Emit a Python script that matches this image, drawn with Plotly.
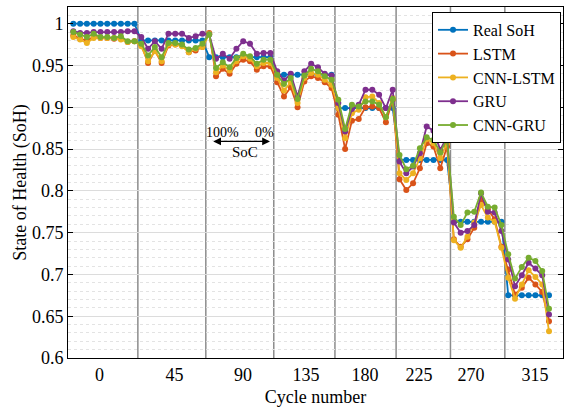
import plotly.graph_objects as go

# ---------------- data ----------------
cycle_index = list(range(71))

real_soh = [1.0]*10 + [0.98]*10 + [0.96]*10 + [0.939]*9 + [0.899]*9 + [0.837]*8 + [0.763]*8 + [0.675]*7

lstm = [0.986, 0.982, 0.980, 0.984, 0.983, 0.983, 0.982, 0.983, 0.978, 0.979,
        0.975, 0.953, 0.968, 0.953, 0.974, 0.975, 0.974, 0.966, 0.968, 0.972,
        0.989, 0.937, 0.946, 0.940, 0.952, 0.957, 0.955, 0.945, 0.949, 0.949,
        0.930, 0.913, 0.924, 0.900, 0.931, 0.937, 0.935, 0.930, 0.923,
        0.891, 0.850, 0.884, 0.886, 0.900, 0.901, 0.899, 0.882, 0.909,
        0.814, 0.801, 0.809, 0.827, 0.857, 0.853, 0.827, 0.853,
        0.742, 0.733, 0.742, 0.756, 0.790, 0.778, 0.766, 0.733,
        0.706, 0.676, 0.684, 0.696, 0.688, 0.679, 0.644]

cnn_lstm = [0.984, 0.981, 0.977, 0.983, 0.983, 0.983, 0.983, 0.981, 0.978, 0.979,
            0.973, 0.955, 0.967, 0.955, 0.975, 0.975, 0.973, 0.966, 0.970, 0.972,
            0.988, 0.942, 0.950, 0.944, 0.955, 0.961, 0.958, 0.949, 0.953, 0.953,
            0.935, 0.920, 0.930, 0.905, 0.935, 0.941, 0.939, 0.933, 0.927,
            0.899, 0.863, 0.893, 0.897, 0.912, 0.913, 0.905, 0.888, 0.911,
            0.821, 0.813, 0.821, 0.839, 0.862, 0.857, 0.839, 0.857,
            0.741, 0.732, 0.745, 0.762, 0.783, 0.768, 0.763, 0.732,
            0.696, 0.671, 0.688, 0.705, 0.697, 0.688, 0.632]

gru = [0.991, 0.989, 0.989, 0.990, 0.990, 0.990, 0.990, 0.990, 0.991, 0.991,
       0.984, 0.970, 0.979, 0.970, 0.988, 0.988, 0.988, 0.983, 0.985, 0.988,
       0.987, 0.958, 0.964, 0.958, 0.970, 0.979, 0.976, 0.964, 0.965, 0.965,
       0.943, 0.932, 0.940, 0.913, 0.943, 0.952, 0.948, 0.940, 0.938,
       0.905, 0.871, 0.898, 0.903, 0.921, 0.921, 0.915, 0.899, 0.921,
       0.835, 0.821, 0.829, 0.845, 0.877, 0.872, 0.849, 0.865,
       0.762, 0.750, 0.752, 0.759, 0.797, 0.775, 0.774, 0.752,
       0.718, 0.686, 0.699, 0.714, 0.707, 0.699, 0.652]

cnn_gru = [0.990, 0.987, 0.984, 0.988, 0.984, 0.984, 0.983, 0.985, 0.979, 0.979,
           0.976, 0.962, 0.972, 0.960, 0.977, 0.977, 0.975, 0.969, 0.971, 0.976,
           0.987, 0.947, 0.954, 0.948, 0.959, 0.964, 0.961, 0.952, 0.957, 0.957,
           0.939, 0.928, 0.935, 0.910, 0.938, 0.946, 0.943, 0.937, 0.933,
           0.909, 0.874, 0.903, 0.901, 0.907, 0.907, 0.903, 0.888, 0.910,
           0.843, 0.826, 0.830, 0.851, 0.864, 0.861, 0.846, 0.862,
           0.769, 0.759, 0.774, 0.775, 0.798, 0.781, 0.780, 0.759,
           0.724, 0.695, 0.709, 0.720, 0.716, 0.704, 0.659]

series_names = ["Real SoH", "LSTM", "CNN-LSTM", "GRU", "CNN-GRU"]
series_values = [real_soh, lstm, cnn_lstm, gru, cnn_gru]
series_colors = ["#0072BD", "#D95319", "#EDB120", "#7E2F8E", "#77AC30"]

tick_positions = [3.86, 14.89, 24.97, 34.24, 42.92, 50.87, 58.52, 67.93]
tick_labels = ["0", "45", "90", "135", "180", "225", "270", "315"]
block_separators = [9.5, 19.5, 29.5, 38.5, 47.5, 55.5, 63.5]

# ---------------- figure ----------------
FONT = "Liberation Serif, Times New Roman, Times, serif"
fig = go.Figure()
for name, vals, col in zip(series_names, series_values, series_colors):
    fig.add_trace(go.Scatter(
        x=cycle_index, y=vals, name=name, mode="lines+markers",
        line=dict(color=col, width=1.8),
        marker=dict(color=col, size=6, symbol="circle"),
    ))

for sx in block_separators:
    fig.add_shape(type="line", xref="x", yref="paper", x0=sx, x1=sx, y0=0, y1=1,
                  line=dict(color="#8c8c8c", width=1.5), layer="below")

# SoC arrow annotation
fig.add_annotation(x=28.94, y=0.8592, ax=20.37, ay=0.8592, axref="x", ayref="y",
                   xref="x", yref="y", text="", showarrow=True,
                   arrowhead=2, startarrowhead=2, arrowside="end+start",
                   arrowsize=1.3, arrowwidth=1.2, arrowcolor="black")
fig.add_annotation(x=22.0, y=0.8696, text="100%", showarrow=False,
                   font=dict(family=FONT, size=14, color="black"))
fig.add_annotation(x=28.2, y=0.8696, text="0%", showarrow=False,
                   font=dict(family=FONT, size=14, color="black"))
fig.add_annotation(x=25.2, y=0.8465, text="SoC", showarrow=False,
                   font=dict(family=FONT, size=15, color="black"))

fig.update_layout(
    width=565, height=412,
    margin=dict(l=68, r=2, t=7, b=54),
    paper_bgcolor="white", plot_bgcolor="white",
    font=dict(family=FONT, size=18, color="black"),
    showlegend=True,
    legend=dict(x=0.996, y=0.986, xanchor="right", yanchor="top",
                bgcolor="white", bordercolor="black", borderwidth=1,
                font=dict(family=FONT, size=16, color="black"),
                itemwidth=30, tracegroupgap=0),
)
fig.update_xaxes(
    range=[-0.78, 72.06], tickmode="array", tickvals=tick_positions, ticktext=tick_labels,
    showgrid=False, zeroline=False, showline=True, linecolor="black", linewidth=1,
    mirror=True, ticks="",
    title=dict(text="Cycle number", font=dict(family=FONT, size=18), standoff=6),
)
fig.update_yaxes(
    range=[0.6, 1.02], tickmode="linear", tick0=0.6, dtick=0.05,
    showgrid=True, gridcolor="#dcdcdc", gridwidth=1, zeroline=False,
    showline=True, linecolor="black", linewidth=1, mirror="ticks",
    ticks="inside", ticklen=5, tickcolor="black",
    minor=dict(dtick=0.01, showgrid=True, gridcolor="#e3e3e3", griddash="dot", gridwidth=1),
    title=dict(text="State of Health (SoH)", font=dict(family=FONT, size=18), standoff=0),
)

fig.write_html("out.html")
